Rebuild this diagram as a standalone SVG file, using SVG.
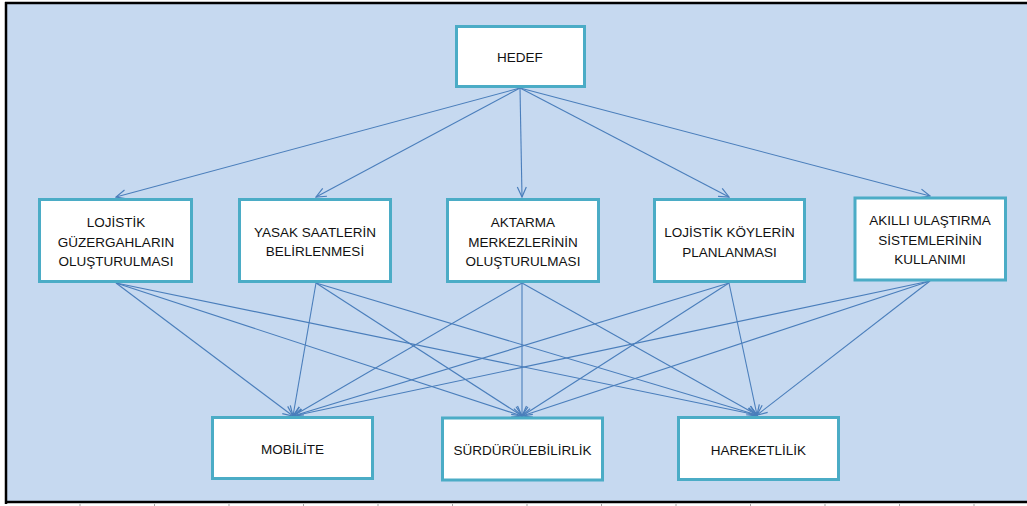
<svg xmlns="http://www.w3.org/2000/svg" width="1027" height="506" viewBox="0 0 1027 506">
  <style>
    .box { fill: #ffffff; stroke: #4BACC6; stroke-width: 3; }
    .lbl { font-family: "Liberation Sans", Arial, sans-serif; font-size: 13.5px; fill: #111111; text-anchor: middle; }
    .link { stroke: #4A7EBB; stroke-width: 1.1; fill: none; marker-end: url(#vhead); }
  </style>
  <defs>
    <marker id="vhead" markerUnits="userSpaceOnUse" markerWidth="12" markerHeight="12" viewBox="0 0 12 12" refX="11" refY="6" orient="auto">
      <path d="M1,1.5 L11,6 L1,10.5" fill="none" stroke="#4A7EBB" stroke-width="1.2"/>
    </marker>
  </defs>

  <!-- page background and frame -->
  <rect x="0" y="0" width="1027" height="506" fill="#ffffff"/>
  <rect x="6" y="3" width="1021" height="499" fill="#C6D9F0"/>
  <line x1="5" y1="3" x2="1027" y2="3" stroke="#000" stroke-width="2.5"/>
  <line x1="6" y1="2" x2="6" y2="504" stroke="#000" stroke-width="2.5"/>
  <line x1="5" y1="502" x2="1027" y2="502" stroke="#000" stroke-width="2.5"/>
  <line x1="6" y1="505" x2="1027" y2="505" stroke="#888" stroke-width="1.5" stroke-dasharray="1 73.5" stroke-dashoffset="-73.5"/>

  <!-- connectors -->
  <g id="connectors">
    <line class="link" x1="520" y1="88" x2="116" y2="197"/>
    <line class="link" x1="520" y1="88" x2="316" y2="197"/>
    <line class="link" x1="520" y1="88" x2="522" y2="197"/>
    <line class="link" x1="520" y1="88" x2="729" y2="197"/>
    <line class="link" x1="520" y1="88" x2="930" y2="196"/>

    <line class="link" x1="116" y1="283" x2="293" y2="416"/>
    <line class="link" x1="116" y1="283" x2="522" y2="416"/>
    <line class="link" x1="116" y1="283" x2="757" y2="415"/>

    <line class="link" x1="316" y1="283" x2="293" y2="416"/>
    <line class="link" x1="316" y1="283" x2="522" y2="416"/>
    <line class="link" x1="316" y1="283" x2="757" y2="415"/>

    <line class="link" x1="522" y1="283" x2="293" y2="416"/>
    <line class="link" x1="522" y1="283" x2="522" y2="416"/>
    <line class="link" x1="522" y1="283" x2="757" y2="415"/>

    <line class="link" x1="729" y1="283" x2="293" y2="416"/>
    <line class="link" x1="729" y1="283" x2="522" y2="416"/>
    <line class="link" x1="729" y1="283" x2="757" y2="415"/>

    <line class="link" x1="930" y1="281" x2="293" y2="416"/>
    <line class="link" x1="930" y1="281" x2="522" y2="416"/>
    <line class="link" x1="930" y1="281" x2="757" y2="415"/>
  </g>

  <!-- goal -->
  <g id="hedef">
    <rect class="box" x="456.5" y="26.5" width="128" height="60"/>
    <text class="lbl" x="520" y="62">HEDEF</text>
  </g>

  <!-- measures -->
  <g id="guzergah">
    <rect class="box" x="39.5" y="199.5" width="152" height="82"/>
    <text class="lbl" x="116" y="227">LOJİSTİK</text>
    <text class="lbl" x="116" y="247">GÜZERGAHLARIN</text>
    <text class="lbl" x="116" y="266">OLUŞTURULMASI</text>
  </g>
  <g id="yasak-saatler">
    <rect class="box" x="239.5" y="199.5" width="151" height="82"/>
    <text class="lbl" x="315" y="237">YASAK SAATLERİN</text>
    <text class="lbl" x="315" y="256">BELİRLENMESİ</text>
  </g>
  <g id="aktarma">
    <rect class="box" x="447.5" y="199.5" width="151" height="82"/>
    <text class="lbl" x="523" y="227">AKTARMA</text>
    <text class="lbl" x="523" y="247">MERKEZLERİNİN</text>
    <text class="lbl" x="523" y="266">OLUŞTURULMASI</text>
  </g>
  <g id="lojistik-koyler">
    <rect class="box" x="654.5" y="199.5" width="150" height="82"/>
    <text class="lbl" x="729.5" y="237">LOJİSTİK KÖYLERİN</text>
    <text class="lbl" x="729.5" y="257">PLANLANMASI</text>
  </g>
  <g id="akilli-ulastirma">
    <rect class="box" x="855" y="198" width="150.5" height="82"/>
    <text class="lbl" x="930" y="225">AKILLI ULAŞTIRMA</text>
    <text class="lbl" x="930" y="245">SİSTEMLERİNİN</text>
    <text class="lbl" x="930" y="264">KULLANIMI</text>
  </g>

  <!-- outcomes -->
  <g id="mobilite">
    <rect class="box" x="212.5" y="417.5" width="160" height="61"/>
    <text class="lbl" x="292.5" y="454">MOBİLİTE</text>
  </g>
  <g id="surdurulebilirlik">
    <rect class="box" x="442.5" y="418" width="160" height="62"/>
    <text class="lbl" x="522.5" y="455">SÜRDÜRÜLEBİLİRLİK</text>
  </g>
  <g id="hareketlilik">
    <rect class="box" x="678.5" y="417.5" width="160" height="62"/>
    <text class="lbl" x="758.5" y="455">HAREKETLİLİK</text>
  </g>
</svg>
